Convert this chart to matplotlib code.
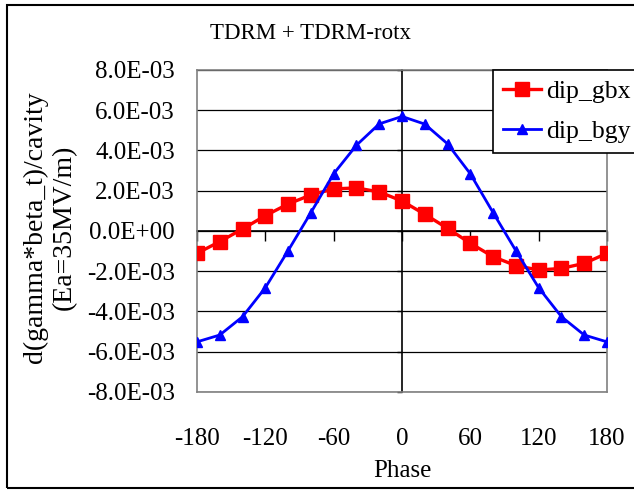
import matplotlib.pyplot as plt
from matplotlib.patches import Rectangle

# phase scan, 20 degree steps
phase = [-180, -160, -140, -120, -100, -80, -60, -40, -20, 0,
         20, 40, 60, 80, 100, 120, 140, 160, 180]
dip_gbx = [-1.11e-3, -0.53e-3, 0.10e-3, 0.76e-3, 1.34e-3, 1.79e-3, 2.09e-3, 2.14e-3, 1.94e-3, 1.49e-3,
           0.83e-3, 0.13e-3, -0.61e-3, -1.28e-3, -1.72e-3, -1.94e-3, -1.86e-3, -1.61e-3, -1.11e-3]
dip_bgy = [-5.51e-3, -5.17e-3, -4.26e-3, -2.82e-3, -0.98e-3, 0.91e-3, 2.84e-3, 4.26e-3, 5.32e-3, 5.69e-3,
           5.31e-3, 4.33e-3, 2.84e-3, 0.91e-3, -0.98e-3, -2.82e-3, -4.26e-3, -5.17e-3, -5.51e-3]

x_ticks = [-180, -120, -60, 0, 60, 120, 180]
y_ticks = [-8e-3, -6e-3, -4e-3, -2e-3, 0, 2e-3, 4e-3, 6e-3, 8e-3]
y_labels = ['-8.0E-03', '-6.0E-03', '-4.0E-03', '-2.0E-03', '0.0E+00',
            '2.0E-03', '4.0E-03', '6.0E-03', '8.0E-03']

plt.rcParams['font.family'] = ['Liberation Serif', 'DejaVu Serif']
plt.rcParams['font.size'] = 18
plt.rcParams['axes.unicode_minus'] = False

fig = plt.figure(figsize=(6.34, 4.92), dpi=100)
ax = fig.add_axes([0.3107, 0.2033, 0.6467, 0.6545])

ax.plot(phase, dip_gbx, color='#ff0000', lw=2.4, marker='s', markersize=10,
        label='dip_gbx', zorder=4)
ax.plot(phase, dip_bgy, color='#0000ff', lw=2.0, marker='^', markersize=7,
        label='dip_bgy', zorder=5)

ax.set_xlim(-180, 180)
ax.set_ylim(-8e-3, 8e-3)
ax.set_xticks(x_ticks)
ax.set_yticks(y_ticks)
ax.set_yticklabels(y_labels)
ax.tick_params(length=0)
ax.tick_params(axis='y', pad=16)
ax.tick_params(axis='x', pad=26)
ax.grid(axis='y', color='black', lw=0.9)
for sp in ax.spines.values():
    sp.set_color('#808080')
    sp.set_linewidth(1.2)

# axes crossing at zero, with their own tick marks
xz = ax.secondary_xaxis(0, transform=ax.transData)
xz.set_xticks(x_ticks)
xz.tick_params(direction='out', length=7, width=1, labelbottom=False)
xz.spines['bottom'].set_linewidth(1.2)
yz = ax.secondary_yaxis(0, transform=ax.transData)
yz.set_yticks(y_ticks)
yz.tick_params(direction='out', length=3.5, width=1, labelleft=False)
yz.spines['left'].set_linewidth(1.2)

ax.set_xlabel('Phase', labelpad=7)
fig.text(0.4905, 0.931, 'TDRM + TDRM-rotx', ha='center', va='center', fontsize=16.5)
fig.text(0.078, 0.5386, 'd(gamma*beta_t)/cavity\n(Ea=35MV/m)', rotation=90,
         ha='center', va='center', linespacing=1.2, fontsize=20)

leg = ax.legend(loc='upper left', bbox_to_anchor=(493 / 634, 1 - 70 / 492),
                bbox_transform=fig.transFigure, fancybox=False, framealpha=1,
                edgecolor='black', borderpad=0.4, handlelength=1.45,
                handletextpad=0.2, labelspacing=0.65, borderaxespad=0,
                fontsize=18.5)
leg.get_frame().set_linewidth(1.2)

# chart border
fig.patches.append(Rectangle((7 / 634, 4 / 492), 1.2, 1 - 9 / 492, fill=False,
                             edgecolor='black', lw=1.5, transform=fig.transFigure))

fig.savefig('out.png', dpi=100)
